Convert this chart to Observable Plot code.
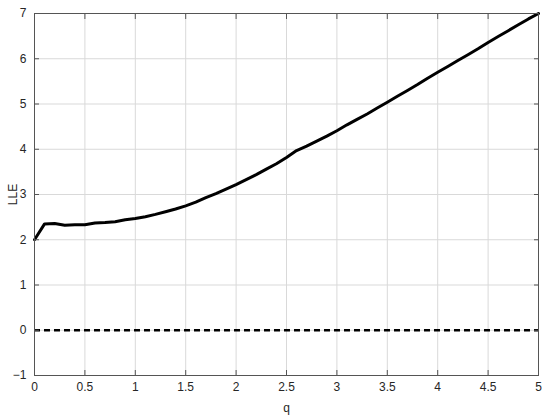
<!DOCTYPE html>
<html>
<head>
<meta charset="utf-8">
<script src="https://cdn.jsdelivr.net/npm/d3@7"></script>
<script src="https://cdn.jsdelivr.net/npm/@observablehq/plot@0.6"></script>
<style>
  html, body { margin: 0; padding: 0; background: #fff; }
  #chart svg { display: block; }
</style>
</head>
<body>
<div id="chart"></div>
<script>
const qValues = [0, 0.1, 0.2, 0.3, 0.4, 0.5, 0.6, 0.7, 0.8, 0.9, 1.0, 1.1, 1.2, 1.3, 1.4, 1.5, 1.6, 1.7, 1.8, 1.9, 2.0,
  2.1, 2.2, 2.3, 2.4, 2.5, 2.6, 2.7, 2.8, 2.9, 3.0, 3.1, 3.2, 3.3, 3.4, 3.5, 3.6, 3.7, 3.8, 3.9, 4.0,
  4.1, 4.2, 4.3, 4.4, 4.5, 4.6, 4.7, 4.8, 4.9, 5.0];
const lleValues = [2.0, 2.35, 2.36, 2.32, 2.33, 2.33, 2.37, 2.38, 2.4, 2.44, 2.47, 2.51, 2.56, 2.62, 2.68, 2.75, 2.83, 2.93, 3.02, 3.12, 3.22,
  3.33, 3.44, 3.56, 3.68, 3.82, 3.97, 4.07, 4.18, 4.29, 4.41, 4.54, 4.66, 4.78, 4.91, 5.04, 5.17, 5.30, 5.43, 5.57, 5.70,
  5.83, 5.96, 6.09, 6.22, 6.36, 6.49, 6.62, 6.75, 6.88, 7.0];
const zeroLine = [0];
const xTicks = [0, 0.5, 1, 1.5, 2, 2.5, 3, 3.5, 4, 4.5, 5];
const yTicks = [-1, 0, 1, 2, 3, 4, 5, 6, 7];

const data = qValues.map((q, i) => ({q, lle: lleValues[i]}));
const fmt = d => d < 0 ? "\u2212" + Math.abs(d) : String(d);
const axisColor = "#555";
const textColor = "#262626";

const chart = Plot.plot({
  width: 550,
  height: 419,
  marginLeft: 34,
  marginRight: 12,
  marginTop: 13,
  marginBottom: 44,
  style: {fontFamily: "'Liberation Sans', Arial, Helvetica, sans-serif", fontSize: "11px", color: textColor, background: "#fff"},
  x: {domain: [0, 5]},
  y: {domain: [-1, 7]},
  marks: [
    Plot.gridX(xTicks, {stroke: "#d9d9d9", strokeOpacity: 1, strokeWidth: 1}),
    Plot.gridY(yTicks, {stroke: "#d9d9d9", strokeOpacity: 1, strokeWidth: 1}),
    Plot.ruleY(zeroLine, {stroke: "#000", strokeWidth: 2.5, strokeDasharray: "6,4"}),
    Plot.line(data, {x: "q", y: "lle", stroke: "#000", strokeWidth: 3, strokeLinejoin: "round"}),
    Plot.frame({stroke: axisColor, strokeWidth: 1}),
    Plot.axisX(xTicks, {anchor: "bottom", tickSize: 0, tickPadding: 7, tickFormat: fmt, label: "q", labelAnchor: "center", labelOffset: 36, labelArrow: "none", fill: textColor, fontSize: 12}),
    Plot.axisX(xTicks, {anchor: "bottom", tickSize: -5, tickFormat: () => "", label: null, stroke: axisColor}),
    Plot.axisX(xTicks, {anchor: "top", tickSize: -5, tickFormat: () => "", label: null, stroke: axisColor}),
    Plot.axisY(yTicks, {anchor: "left", tickSize: 0, tickPadding: 8, tickFormat: fmt, label: "LLE", labelAnchor: "center", labelOffset: 26, labelArrow: "none", fill: textColor, fontSize: 12}),
    Plot.axisY(yTicks, {anchor: "left", tickSize: -5, tickFormat: () => "", label: null, stroke: axisColor}),
    Plot.axisY(yTicks, {anchor: "right", tickSize: -5, tickFormat: () => "", label: null, stroke: axisColor})
  ]
});
document.getElementById("chart").appendChild(chart);
</script>
</body>
</html>
